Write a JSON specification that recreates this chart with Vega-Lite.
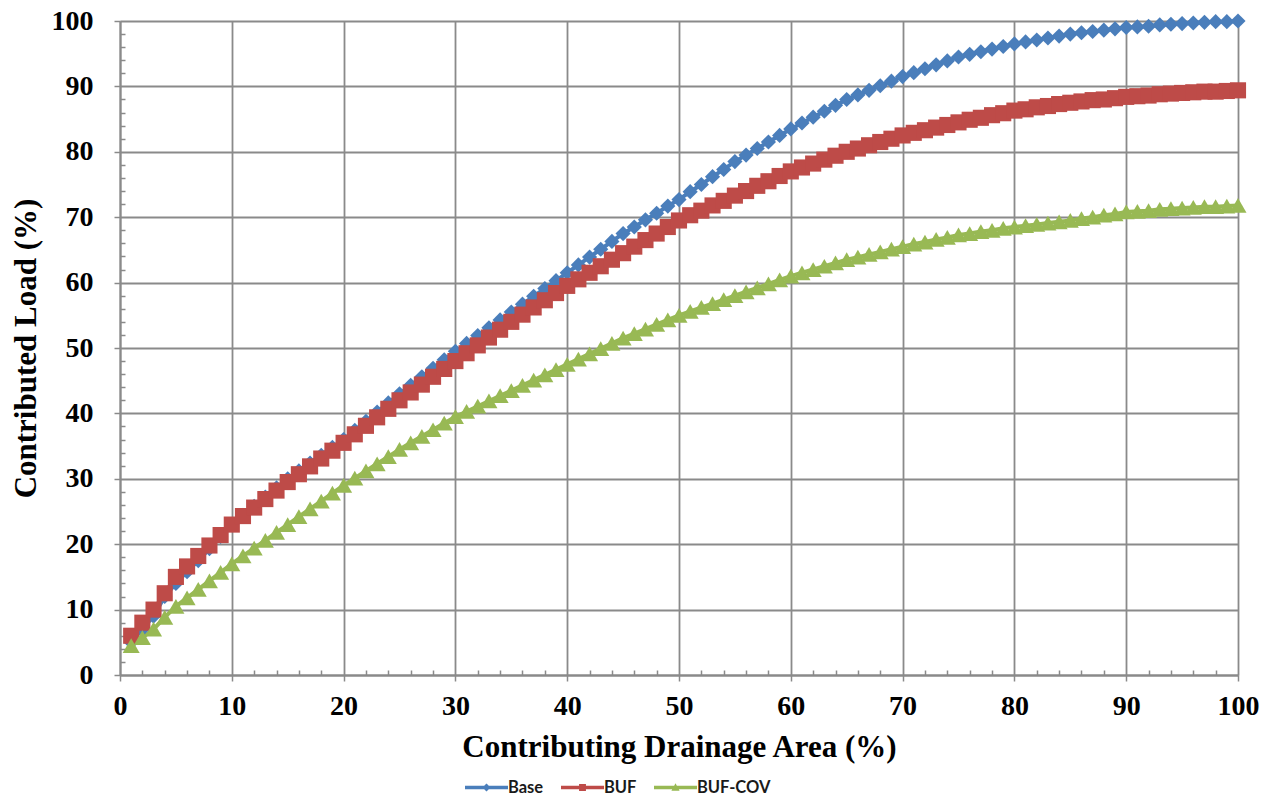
{
  "$schema": "https://vega.github.io/schema/vega-lite/v6.json",
  "width": 1118,
  "height": 654,
  "autosize": {"type": "none"},
  "padding": {"left": 120, "top": 21, "right": 26, "bottom": 124},
  "background": "white",
  "config": {
    "view": {"stroke": null},
    "axis": {
      "domainColor": "#8a8a8a",
      "domainWidth": 2,
      "tickColor": "#8a8a8a",
      "tickWidth": 1.5,
      "gridColor": "#8a8a8a",
      "gridWidth": 1.8,
      "labelFont": "Liberation Serif",
      "labelFontWeight": "bold",
      "labelFontSize": 28,
      "labelColor": "#000000",
      "titleFont": "Liberation Serif",
      "titleFontWeight": "bold",
      "titleFontSize": 31,
      "titleColor": "#000000"
    }
  },
  "data": {"values": [
    {"x":1,"s":"Base","y":5.0},{"x":2,"s":"Base","y":7.0},{"x":3,"s":"Base","y":9.0},{"x":4,"s":"Base","y":12.0},{"x":5,"s":"Base","y":14.0},{"x":6,"s":"Base","y":15.8},{"x":7,"s":"Base","y":17.5},{"x":8,"s":"Base","y":19.3},{"x":9,"s":"Base","y":21.2},{"x":10,"s":"Base","y":23.0},
    {"x":11,"s":"Base","y":24.4},{"x":12,"s":"Base","y":25.8},{"x":13,"s":"Base","y":27.2},{"x":14,"s":"Base","y":28.6},{"x":15,"s":"Base","y":30.0},{"x":16,"s":"Base","y":31.2},{"x":17,"s":"Base","y":32.4},{"x":18,"s":"Base","y":33.6},{"x":19,"s":"Base","y":34.8},{"x":20,"s":"Base","y":36.0},
    {"x":21,"s":"Base","y":37.4},{"x":22,"s":"Base","y":38.8},{"x":23,"s":"Base","y":40.2},{"x":24,"s":"Base","y":41.6},{"x":25,"s":"Base","y":43.0},{"x":26,"s":"Base","y":44.3},{"x":27,"s":"Base","y":45.6},{"x":28,"s":"Base","y":46.9},{"x":29,"s":"Base","y":48.2},{"x":30,"s":"Base","y":49.5},
    {"x":31,"s":"Base","y":50.7},{"x":32,"s":"Base","y":51.9},{"x":33,"s":"Base","y":53.1},{"x":34,"s":"Base","y":54.3},{"x":35,"s":"Base","y":55.5},{"x":36,"s":"Base","y":56.7},{"x":37,"s":"Base","y":57.9},{"x":38,"s":"Base","y":59.1},{"x":39,"s":"Base","y":60.3},{"x":40,"s":"Base","y":61.5},
    {"x":41,"s":"Base","y":62.7},{"x":42,"s":"Base","y":63.9},{"x":43,"s":"Base","y":65.1},{"x":44,"s":"Base","y":66.3},{"x":45,"s":"Base","y":67.5},{"x":46,"s":"Base","y":68.5},{"x":47,"s":"Base","y":69.6},{"x":48,"s":"Base","y":70.6},{"x":49,"s":"Base","y":71.7},{"x":50,"s":"Base","y":72.7},
    {"x":51,"s":"Base","y":73.9},{"x":52,"s":"Base","y":75.0},{"x":53,"s":"Base","y":76.2},{"x":54,"s":"Base","y":77.3},{"x":55,"s":"Base","y":78.5},{"x":56,"s":"Base","y":79.5},{"x":57,"s":"Base","y":80.5},{"x":58,"s":"Base","y":81.5},{"x":59,"s":"Base","y":82.5},{"x":60,"s":"Base","y":83.5},
    {"x":61,"s":"Base","y":84.4},{"x":62,"s":"Base","y":85.3},{"x":63,"s":"Base","y":86.2},{"x":64,"s":"Base","y":87.1},{"x":65,"s":"Base","y":88.0},{"x":66,"s":"Base","y":88.7},{"x":67,"s":"Base","y":89.4},{"x":68,"s":"Base","y":90.1},{"x":69,"s":"Base","y":90.8},{"x":70,"s":"Base","y":91.5},
    {"x":71,"s":"Base","y":92.1},{"x":72,"s":"Base","y":92.7},{"x":73,"s":"Base","y":93.3},{"x":74,"s":"Base","y":93.9},{"x":75,"s":"Base","y":94.5},{"x":76,"s":"Base","y":94.9},{"x":77,"s":"Base","y":95.3},{"x":78,"s":"Base","y":95.7},{"x":79,"s":"Base","y":96.1},{"x":80,"s":"Base","y":96.5},
    {"x":81,"s":"Base","y":96.8},{"x":82,"s":"Base","y":97.1},{"x":83,"s":"Base","y":97.4},{"x":84,"s":"Base","y":97.7},{"x":85,"s":"Base","y":98.0},{"x":86,"s":"Base","y":98.2},{"x":87,"s":"Base","y":98.4},{"x":88,"s":"Base","y":98.6},{"x":89,"s":"Base","y":98.8},{"x":90,"s":"Base","y":99.0},
    {"x":91,"s":"Base","y":99.1},{"x":92,"s":"Base","y":99.2},{"x":93,"s":"Base","y":99.4},{"x":94,"s":"Base","y":99.5},{"x":95,"s":"Base","y":99.6},{"x":96,"s":"Base","y":99.7},{"x":97,"s":"Base","y":99.8},{"x":98,"s":"Base","y":99.9},{"x":99,"s":"Base","y":99.9},{"x":100,"s":"Base","y":100.0},
    {"x":1,"s":"BUF","y":6.0},{"x":2,"s":"BUF","y":8.0},{"x":3,"s":"BUF","y":10.0},{"x":4,"s":"BUF","y":12.5},{"x":5,"s":"BUF","y":15.0},{"x":6,"s":"BUF","y":16.6},{"x":7,"s":"BUF","y":18.2},{"x":8,"s":"BUF","y":19.8},{"x":9,"s":"BUF","y":21.4},{"x":10,"s":"BUF","y":23.0},
    {"x":11,"s":"BUF","y":24.3},{"x":12,"s":"BUF","y":25.6},{"x":13,"s":"BUF","y":26.9},{"x":14,"s":"BUF","y":28.2},{"x":15,"s":"BUF","y":29.5},{"x":16,"s":"BUF","y":30.7},{"x":17,"s":"BUF","y":31.9},{"x":18,"s":"BUF","y":33.1},{"x":19,"s":"BUF","y":34.3},{"x":20,"s":"BUF","y":35.5},
    {"x":21,"s":"BUF","y":36.8},{"x":22,"s":"BUF","y":38.1},{"x":23,"s":"BUF","y":39.4},{"x":24,"s":"BUF","y":40.7},{"x":25,"s":"BUF","y":42.0},{"x":26,"s":"BUF","y":43.2},{"x":27,"s":"BUF","y":44.4},{"x":28,"s":"BUF","y":45.6},{"x":29,"s":"BUF","y":46.8},{"x":30,"s":"BUF","y":48.0},
    {"x":31,"s":"BUF","y":49.2},{"x":32,"s":"BUF","y":50.4},{"x":33,"s":"BUF","y":51.6},{"x":34,"s":"BUF","y":52.8},{"x":35,"s":"BUF","y":54.0},{"x":36,"s":"BUF","y":55.1},{"x":37,"s":"BUF","y":56.2},{"x":38,"s":"BUF","y":57.3},{"x":39,"s":"BUF","y":58.4},{"x":40,"s":"BUF","y":59.5},
    {"x":41,"s":"BUF","y":60.5},{"x":42,"s":"BUF","y":61.5},{"x":43,"s":"BUF","y":62.5},{"x":44,"s":"BUF","y":63.5},{"x":45,"s":"BUF","y":64.5},{"x":46,"s":"BUF","y":65.5},{"x":47,"s":"BUF","y":66.5},{"x":48,"s":"BUF","y":67.5},{"x":49,"s":"BUF","y":68.5},{"x":50,"s":"BUF","y":69.5},
    {"x":51,"s":"BUF","y":70.3},{"x":52,"s":"BUF","y":71.0},{"x":53,"s":"BUF","y":71.8},{"x":54,"s":"BUF","y":72.5},{"x":55,"s":"BUF","y":73.3},{"x":56,"s":"BUF","y":74.0},{"x":57,"s":"BUF","y":74.8},{"x":58,"s":"BUF","y":75.5},{"x":59,"s":"BUF","y":76.3},{"x":60,"s":"BUF","y":77.0},
    {"x":61,"s":"BUF","y":77.6},{"x":62,"s":"BUF","y":78.2},{"x":63,"s":"BUF","y":78.8},{"x":64,"s":"BUF","y":79.4},{"x":65,"s":"BUF","y":80.0},{"x":66,"s":"BUF","y":80.5},{"x":67,"s":"BUF","y":81.0},{"x":68,"s":"BUF","y":81.5},{"x":69,"s":"BUF","y":82.0},{"x":70,"s":"BUF","y":82.5},
    {"x":71,"s":"BUF","y":82.9},{"x":72,"s":"BUF","y":83.3},{"x":73,"s":"BUF","y":83.7},{"x":74,"s":"BUF","y":84.1},{"x":75,"s":"BUF","y":84.5},{"x":76,"s":"BUF","y":84.9},{"x":77,"s":"BUF","y":85.2},{"x":78,"s":"BUF","y":85.6},{"x":79,"s":"BUF","y":85.9},{"x":80,"s":"BUF","y":86.3},
    {"x":81,"s":"BUF","y":86.5},{"x":82,"s":"BUF","y":86.8},{"x":83,"s":"BUF","y":87.0},{"x":84,"s":"BUF","y":87.3},{"x":85,"s":"BUF","y":87.5},{"x":86,"s":"BUF","y":87.7},{"x":87,"s":"BUF","y":87.9},{"x":88,"s":"BUF","y":88.0},{"x":89,"s":"BUF","y":88.2},{"x":90,"s":"BUF","y":88.4},
    {"x":91,"s":"BUF","y":88.5},{"x":92,"s":"BUF","y":88.6},{"x":93,"s":"BUF","y":88.8},{"x":94,"s":"BUF","y":88.9},{"x":95,"s":"BUF","y":89.0},{"x":96,"s":"BUF","y":89.1},{"x":97,"s":"BUF","y":89.2},{"x":98,"s":"BUF","y":89.2},{"x":99,"s":"BUF","y":89.3},{"x":100,"s":"BUF","y":89.4},
    {"x":1,"s":"BUF-COV","y":4.5},{"x":2,"s":"BUF-COV","y":5.7},{"x":3,"s":"BUF-COV","y":7.0},{"x":4,"s":"BUF-COV","y":8.8},{"x":5,"s":"BUF-COV","y":10.5},{"x":6,"s":"BUF-COV","y":11.8},{"x":7,"s":"BUF-COV","y":13.1},{"x":8,"s":"BUF-COV","y":14.4},{"x":9,"s":"BUF-COV","y":15.7},{"x":10,"s":"BUF-COV","y":17.0},
    {"x":11,"s":"BUF-COV","y":18.2},{"x":12,"s":"BUF-COV","y":19.4},{"x":13,"s":"BUF-COV","y":20.6},{"x":14,"s":"BUF-COV","y":21.8},{"x":15,"s":"BUF-COV","y":23.0},{"x":16,"s":"BUF-COV","y":24.2},{"x":17,"s":"BUF-COV","y":25.4},{"x":18,"s":"BUF-COV","y":26.6},{"x":19,"s":"BUF-COV","y":27.8},{"x":20,"s":"BUF-COV","y":29.0},
    {"x":21,"s":"BUF-COV","y":30.1},{"x":22,"s":"BUF-COV","y":31.2},{"x":23,"s":"BUF-COV","y":32.3},{"x":24,"s":"BUF-COV","y":33.4},{"x":25,"s":"BUF-COV","y":34.5},{"x":26,"s":"BUF-COV","y":35.5},{"x":27,"s":"BUF-COV","y":36.5},{"x":28,"s":"BUF-COV","y":37.5},{"x":29,"s":"BUF-COV","y":38.5},{"x":30,"s":"BUF-COV","y":39.5},
    {"x":31,"s":"BUF-COV","y":40.3},{"x":32,"s":"BUF-COV","y":41.1},{"x":33,"s":"BUF-COV","y":41.9},{"x":34,"s":"BUF-COV","y":42.7},{"x":35,"s":"BUF-COV","y":43.5},{"x":36,"s":"BUF-COV","y":44.3},{"x":37,"s":"BUF-COV","y":45.1},{"x":38,"s":"BUF-COV","y":45.9},{"x":39,"s":"BUF-COV","y":46.7},{"x":40,"s":"BUF-COV","y":47.5},
    {"x":41,"s":"BUF-COV","y":48.3},{"x":42,"s":"BUF-COV","y":49.1},{"x":43,"s":"BUF-COV","y":49.9},{"x":44,"s":"BUF-COV","y":50.7},{"x":45,"s":"BUF-COV","y":51.5},{"x":46,"s":"BUF-COV","y":52.2},{"x":47,"s":"BUF-COV","y":52.9},{"x":48,"s":"BUF-COV","y":53.6},{"x":49,"s":"BUF-COV","y":54.3},{"x":50,"s":"BUF-COV","y":55.0},
    {"x":51,"s":"BUF-COV","y":55.6},{"x":52,"s":"BUF-COV","y":56.2},{"x":53,"s":"BUF-COV","y":56.8},{"x":54,"s":"BUF-COV","y":57.4},{"x":55,"s":"BUF-COV","y":58.0},{"x":56,"s":"BUF-COV","y":58.6},{"x":57,"s":"BUF-COV","y":59.2},{"x":58,"s":"BUF-COV","y":59.8},{"x":59,"s":"BUF-COV","y":60.4},{"x":60,"s":"BUF-COV","y":61.0},
    {"x":61,"s":"BUF-COV","y":61.5},{"x":62,"s":"BUF-COV","y":62.0},{"x":63,"s":"BUF-COV","y":62.5},{"x":64,"s":"BUF-COV","y":63.0},{"x":65,"s":"BUF-COV","y":63.5},{"x":66,"s":"BUF-COV","y":63.9},{"x":67,"s":"BUF-COV","y":64.3},{"x":68,"s":"BUF-COV","y":64.7},{"x":69,"s":"BUF-COV","y":65.1},{"x":70,"s":"BUF-COV","y":65.5},
    {"x":71,"s":"BUF-COV","y":65.9},{"x":72,"s":"BUF-COV","y":66.2},{"x":73,"s":"BUF-COV","y":66.6},{"x":74,"s":"BUF-COV","y":66.9},{"x":75,"s":"BUF-COV","y":67.3},{"x":76,"s":"BUF-COV","y":67.5},{"x":77,"s":"BUF-COV","y":67.8},{"x":78,"s":"BUF-COV","y":68.0},{"x":79,"s":"BUF-COV","y":68.3},{"x":80,"s":"BUF-COV","y":68.5},
    {"x":81,"s":"BUF-COV","y":68.7},{"x":82,"s":"BUF-COV","y":68.9},{"x":83,"s":"BUF-COV","y":69.1},{"x":84,"s":"BUF-COV","y":69.3},{"x":85,"s":"BUF-COV","y":69.5},{"x":86,"s":"BUF-COV","y":69.8},{"x":87,"s":"BUF-COV","y":70.0},{"x":88,"s":"BUF-COV","y":70.3},{"x":89,"s":"BUF-COV","y":70.5},{"x":90,"s":"BUF-COV","y":70.8},
    {"x":91,"s":"BUF-COV","y":70.9},{"x":92,"s":"BUF-COV","y":71.0},{"x":93,"s":"BUF-COV","y":71.2},{"x":94,"s":"BUF-COV","y":71.3},{"x":95,"s":"BUF-COV","y":71.4},{"x":96,"s":"BUF-COV","y":71.5},{"x":97,"s":"BUF-COV","y":71.6},{"x":98,"s":"BUF-COV","y":71.6},{"x":99,"s":"BUF-COV","y":71.7},{"x":100,"s":"BUF-COV","y":71.8}
  ]},
  "encoding": {
    "x": {
      "field": "x", "type": "quantitative",
      "scale": {"domain": [0, 100], "nice": false, "zero": false},
      "axis": {
        "title": "Contributing Drainage Area (%)",
        "values": [0,2,4,6,8,10,12,14,16,18,20,22,24,26,28,30,32,34,36,38,40,42,44,46,48,50,52,54,56,58,60,62,64,66,68,70,72,74,76,78,80,82,84,86,88,90,92,94,96,98,100],
        "labelExpr": "datum.value % 10 === 0 ? datum.label : ''",
        "gridOpacity": {"condition": {"test": "datum.value % 10 === 0", "value": 1}, "value": 0},
        "tickSize": {"condition": {"test": "datum.value % 10 === 0", "value": 6}, "value": -5},
        "labelPadding": 11,
        "labelFlush": false,
        "labelOverlap": false,
        "titleY": 81,
        "titleBaseline": "alphabetic"
      }
    },
    "y": {
      "field": "y", "type": "quantitative",
      "scale": {"domain": [0, 100], "nice": false},
      "axis": {
        "title": "Contributed Load (%)",
        "values": [0,2,4,6,8,10,12,14,16,18,20,22,24,26,28,30,32,34,36,38,40,42,44,46,48,50,52,54,56,58,60,62,64,66,68,70,72,74,76,78,80,82,84,86,88,90,92,94,96,98,100],
        "labelExpr": "datum.value % 10 === 0 ? datum.label : ''",
        "gridOpacity": {"condition": {"test": "datum.value % 10 === 0", "value": 1}, "value": 0},
        "tickSize": {"condition": {"test": "datum.value % 10 === 0", "value": 6}, "value": -5},
        "labelPadding": 21,
        "labelFlush": false,
        "labelOverlap": false,
        "titleX": -85,
        "titleY": 327,
        "titleBaseline": "alphabetic"
      }
    }
  },
  "layer": [
    {
      "mark": {"type": "line", "strokeWidth": 4},
      "encoding": {
        "color": {"field": "s", "type": "nominal", "scale": {"domain": ["Base", "BUF", "BUF-COV"], "range": ["#4a7ebb", "#be4b48", "#98b954"]}, "legend": null}
      }
    },
    {
      "mark": {"type": "point", "filled": true, "opacity": 1, "strokeWidth": 0},
      "encoding": {
        "color": {"field": "s", "type": "nominal", "scale": {"domain": ["Base", "BUF", "BUF-COV"], "range": ["#4a7ebb", "#be4b48", "#98b954"]}, "legend": null},
        "shape": {"field": "s", "type": "nominal", "scale": {"domain": ["Base", "BUF", "BUF-COV"], "range": ["diamond", "square", "triangle-up"]}, "legend": null},
        "size": {"field": "s", "type": "nominal", "scale": {"domain": ["Base", "BUF", "BUF-COV"], "range": [230, 290, 260]}, "legend": null}
      }
    },
    {
      "transform": [{"filter": "false"}],
      "mark": {"type": "point", "filled": true, "opacity": 1, "strokeWidth": 0},
      "encoding": {
        "color": {"field": "s", "type": "nominal", "scale": {"domain": ["Base", "BUF", "BUF-COV"], "range": ["#4a7ebb", "#be4b48", "#98b954"]},
          "legend": {"title": null, "orient": "none", "legendX": 345, "legendY": 745, "direction": "horizontal", "symbolSize": 1849, "labelFont": "Lato", "labelFontWeight": "bold", "labelFontSize": 16.5, "labelColor": "#1a1a1a", "labelOffset": 0, "columnPadding": 17, "symbolStrokeWidth": 0}},
        "shape": {"field": "s", "type": "nominal", "scale": {"domain": ["Base", "BUF", "BUF-COV"], "range": [
          "M-1,-0.08L1,-0.08L1,0.08L-1,0.08Z M0,-0.19L0.19,0L0,0.19L-0.19,0Z",
          "M-1,-0.08L1,-0.08L1,0.08L-1,0.08Z M-0.16,-0.16L0.16,-0.16L0.16,0.16L-0.16,0.16Z",
          "M-1,-0.08L1,-0.08L1,0.08L-1,0.08Z M0,-0.2L0.19,0.15L-0.19,0.15Z"
        ]},
          "legend": {"title": null, "orient": "none", "legendX": 345, "legendY": 745, "direction": "horizontal", "symbolSize": 1849, "labelFont": "Lato", "labelFontWeight": "bold", "labelFontSize": 16.5, "labelColor": "#1a1a1a", "labelOffset": 0, "columnPadding": 17, "symbolStrokeWidth": 0}}
      }
    }
  ],
  "resolve": {"scale": {"color": "independent", "shape": "independent"}}
}
